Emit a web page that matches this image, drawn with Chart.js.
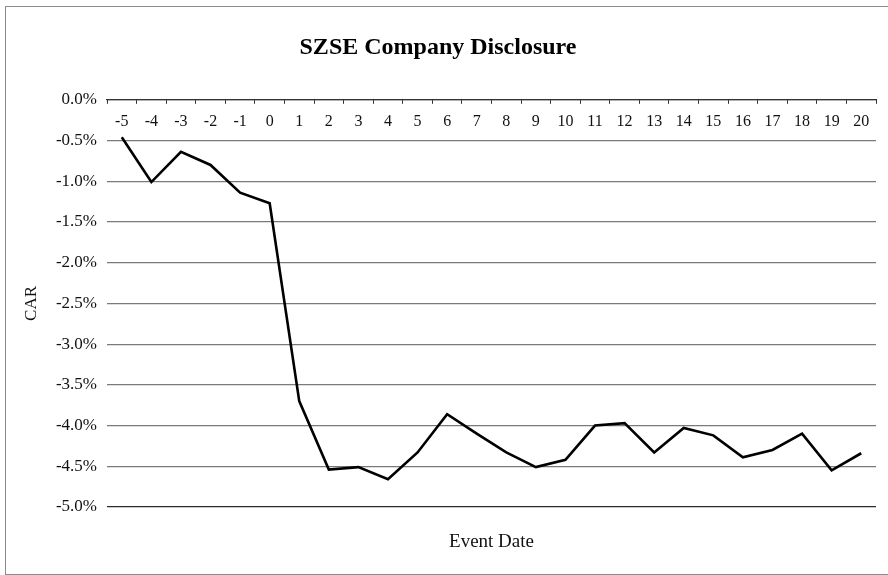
<!DOCTYPE html>
<html>
<head>
<meta charset="utf-8">
<script src="https://cdn.jsdelivr.net/npm/chart.js@4.4.1/dist/chart.umd.min.js"></script>
<style>
  html, body { margin: 0; padding: 0; background: #fff; }
  #wrap { position: relative; width: 888px; height: 575px; overflow: hidden; }
  #frame { position: absolute; left: 5px; top: 6px; width: 900px; height: 569px; border: 1.5px solid #8c8c8c; box-sizing: border-box; }
  #myChart { position: absolute; left: 0; top: 0; }
</style>
</head>
<body>
<div id="wrap">
  <div id="frame"></div>
  <canvas id="myChart" width="888" height="575"></canvas>
</div>
<script>
// event days and cumulative abnormal return (%)
var eventDays = ['-5', '-4', '-3', '-2', '-1', '0', '1', '2', '3', '4', '5', '6', '7', '8', '9', '10',
                 '11', '12', '13', '14', '15', '16', '17', '18', '19', '20'];
var carValues = [-0.46, -1.01, -0.64, -0.80, -1.14, -1.27, -3.70, -4.54, -4.51, -4.66, -4.33, -3.86, -4.10,
                 -4.33, -4.51, -4.42, -4.00, -3.97, -4.33, -4.03, -4.12, -4.39, -4.30, -4.10, -4.55, -4.34];
var yMin = -5.0;
var yMax = 0.0;
var yStep = 0.5;

var serif = "'Liberation Serif', 'DejaVu Serif', serif";

document.addEventListener('DOMContentLoaded', function () {
    var ctx = document.getElementById('myChart').getContext('2d');
    var chart = new Chart(ctx, {
        type: 'line',
        data: {
            labels: eventDays,
            datasets: [{
                label: 'CAR',
                data: carValues,
                xAxisID: 'x',
                yAxisID: 'y',
                borderColor: '#000',
                borderWidth: 2.6,
                pointRadius: 0,
                tension: 0,
                fill: false
            }]
        },
        options: {
            responsive: false,
            animation: false,
            events: [],
            layout: { padding: { left: 0, right: 12, top: 0, bottom: 0 } },
            plugins: {
                legend: { display: false },
                tooltip: { enabled: false },
                title: {
                    display: true,
                    text: 'SZSE Company Disclosure',
                    color: '#000',
                    font: { family: serif, size: 24, weight: 'bold' },
                    padding: { top: 33, bottom: 0 }
                }
            },
            scales: {
                // x axis sits on the 0% line, labels hang below it
                x: {
                    type: 'category',
                    position: 'top',
                    offset: true,
                    grid: {
                        offset: true,
                        drawOnChartArea: false,
                        drawTicks: true,
                        tickLength: -4,
                        tickColor: '#333',
                        tickWidth: 1
                    },
                    border: { display: true, color: '#333', width: 1.2 },
                    ticks: {
                        color: '#111',
                        font: { family: serif, size: 16 },
                        mirror: true,
                        padding: 12,
                        maxRotation: 0,
                        autoSkip: false
                    },
                    afterFit: function (scale) { scale.height = 38; }
                },
                x2: {
                    type: 'category',
                    position: 'bottom',
                    labels: eventDays,
                    grid: { display: false },
                    border: { display: false },
                    ticks: { display: false },
                    title: {
                        display: true,
                        text: 'Event Date',
                        color: '#111',
                        font: { family: serif, size: 19 },
                        padding: { top: 0, bottom: 21.5 }
                    },
                    afterFit: function (scale) { scale.height = 68; }
                },
                y: {
                    min: yMin,
                    max: yMax,
                    ticks: {
                        stepSize: yStep,
                        color: '#111',
                        padding: 10,
                        font: { family: serif, size: 17 },
                        callback: function (v) { return v.toFixed(1) + '%'; }
                    },
                    grid: {
                        drawTicks: false,
                        lineWidth: 1.2,
                        color: function (c) { return c.tick && c.tick.value === yMin ? '#2a2a2a' : '#7a7a7a'; }
                    },
                    border: { display: false },
                    title: {
                        display: true,
                        text: 'CAR',
                        color: '#111',
                        font: { family: serif, size: 17 },
                        padding: { top: 21, bottom: 0 }
                    },
                    afterFit: function (scale) { scale.width = 107; }
                }
            }
        }
    });
});
</script>
</body>
</html>
